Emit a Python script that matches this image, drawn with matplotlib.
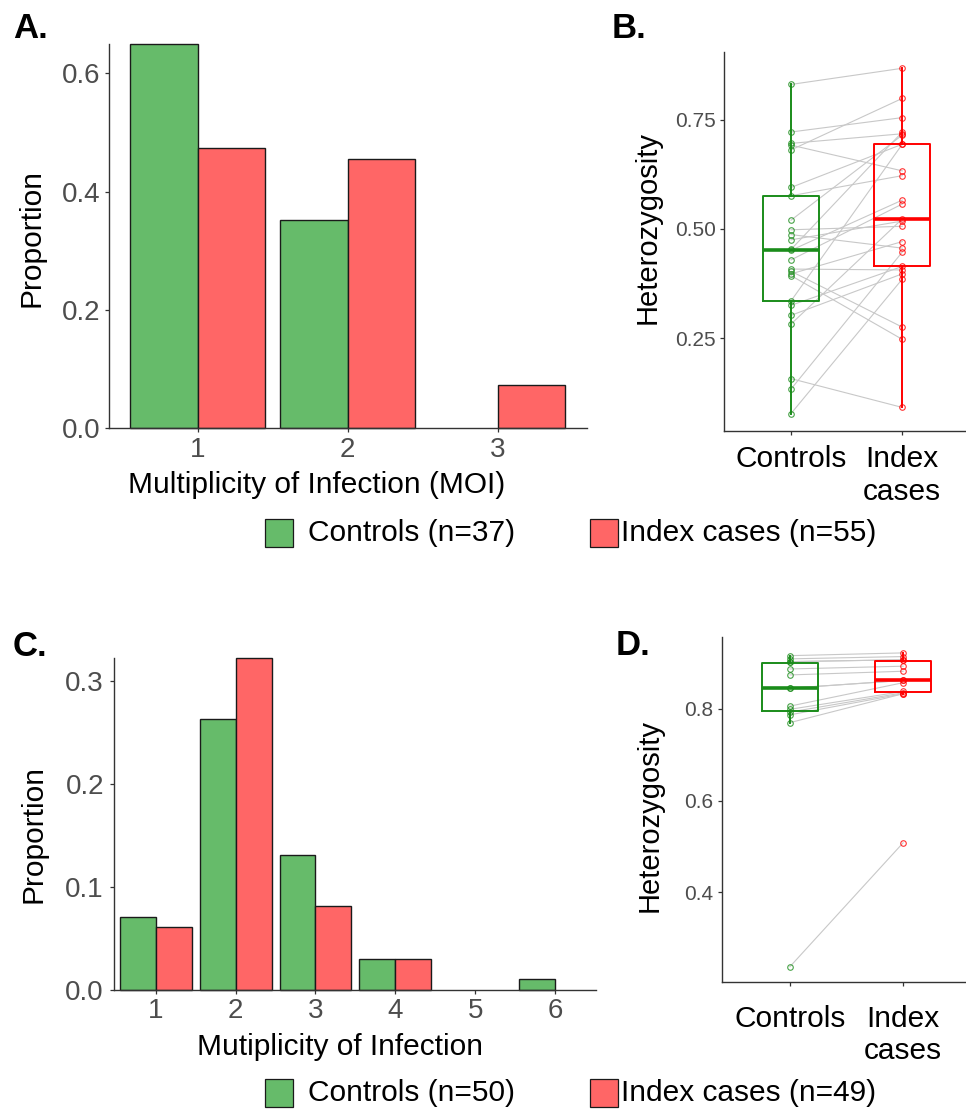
import numpy as np
import matplotlib.pyplot as plt
from matplotlib.patches import Rectangle

plt.rcParams['font.family'] = ['Liberation Sans', 'DejaVu Sans']

# ---- data ----
moi_a = [1, 2, 3]
controls_a = [0.649, 0.351, 0.0]
index_a = [0.473, 0.455, 0.073]

moi_c = [1, 2, 3, 4, 5, 6]
controls_c = [0.071, 0.263, 0.131, 0.030, 0.0, 0.010]
index_c = [0.061, 0.323, 0.081, 0.030, 0.0, 0.0]

# paired heterozygosity (control i <-> index case i)
het_b_controls = [0.831, 0.722, 0.696, 0.692, 0.681, 0.595, 0.576, 0.520, 0.498,
                  0.487, 0.475, 0.453, 0.451, 0.429, 0.408, 0.403, 0.397, 0.393,
                  0.335, 0.325, 0.302, 0.282, 0.157, 0.133, 0.077]
het_b_index = [0.868, 0.755, 0.718, 0.633, 0.799, 0.694, 0.622, 0.715, 0.506,
               0.456, 0.518, 0.722, 0.566, 0.557, 0.406, 0.275, 0.471, 0.247,
               0.694, 0.414, 0.397, 0.523, 0.091, 0.447, 0.385]

het_d_controls = [0.916, 0.909, 0.903, 0.903, 0.887, 0.874, 0.845, 0.845, 0.806,
                  0.799, 0.793, 0.787, 0.770, 0.238]
het_d_index = [0.922, 0.914, 0.907, 0.907, 0.893, 0.882, 0.862, 0.862, 0.857,
               0.838, 0.835, 0.833, 0.833, 0.508]

groups = ['Controls', 'Index\ncases']
legend_a = ['Controls (n=37)', 'Index cases (n=55)']
legend_c = ['Controls (n=50)', 'Index cases (n=49)']

GREEN_BAR = '#66BB6A'
RED_BAR = '#FF6666'
GREEN_BOX = '#1A8C1A'
RED_BOX = '#FF0000'
AXIS_COL = '#333333'
TICK_COL = '#4D4D4D'

W, H = 966, 1119
fig = plt.figure(figsize=(W / 100, H / 100), dpi=100)


def px_axes(left, top, right, bottom):
    return fig.add_axes([left / W, 1 - bottom / H, (right - left) / W, (bottom - top) / H])


def ftext(x, y, s, **kw):
    fig.text(x / W, 1 - y / H, s, **kw)


def style(ax):
    for s in ['top', 'right']:
        ax.spines[s].set_visible(False)
    for s in ['left', 'bottom']:
        ax.spines[s].set_color(AXIS_COL)
        ax.spines[s].set_linewidth(1.0)
    ax.tick_params(direction='out', length=3.2, width=0.9, color=AXIS_COL)


def bar_panel(ax, x, ctrl, idx, xlim, ylim, yticks, ylabels):
    x = np.array(x)
    ctrl = np.array(ctrl)
    idx = np.array(idx)
    # ggplot leaves empty categories blank, so skip zero-height bars
    for offs, vals, col in [(-0.225, ctrl, GREEN_BAR), (0.225, idx, RED_BAR)]:
        keep = vals > 0
        ax.bar(x[keep] + offs, vals[keep], width=0.45, color=col, edgecolor='#1a1a1a',
               linewidth=1.0, clip_on=False, zorder=2)
    ax.set_xlim(*xlim)
    ax.set_ylim(*ylim)
    ax.set_xticks(x)
    ax.set_yticks(yticks)
    ax.set_yticklabels(ylabels)
    style(ax)
    ax.tick_params(labelsize=20, labelcolor=TICK_COL)
    ax.tick_params(axis='x', pad=3)
    ax.tick_params(axis='y', pad=2.5)


def paired_panel(ax, ctrl, idx, ylim, yticks, ylabels):
    for c, i in zip(ctrl, idx):
        ax.plot([1, 2], [c, i], color='#C8C8C8', lw=0.8, zorder=1)
    for pos, vals, col in [(1, ctrl, GREEN_BOX), (2, idx, RED_BOX)]:
        ax.boxplot([vals], positions=[pos], widths=0.5, showcaps=False,
                   showfliers=False, patch_artist=False,
                   boxprops=dict(color=col, lw=1.4),
                   whiskerprops=dict(color=col, lw=1.4),
                   medianprops=dict(color=col, lw=2.6), zorder=2)
        ax.plot([pos] * len(vals), vals, 'o', ms=4.0, mfc='none', mec=col,
                mew=0.8, alpha=0.8, zorder=3)
    ax.set_xlim(0.4, 2.6)
    ax.set_ylim(*ylim)
    ax.set_xticks([1, 2])
    ax.set_xticklabels(groups)
    ax.set_yticks(yticks)
    ax.set_yticklabels(ylabels)
    style(ax)
    ax.tick_params(axis='y', labelsize=15, labelcolor=TICK_COL, pad=3)
    ax.tick_params(axis='x', labelsize=21.5, labelcolor='black', pad=7)


def legend_row(y, labels):
    for (sx, tx), lab, col in zip([(265, 308), (590, 621)], labels, [GREEN_BAR, RED_BAR]):
        fig.patches.append(Rectangle((sx / W, 1 - (y + 14) / H), 28 / W, 28 / H,
                                     transform=fig.transFigure, facecolor=col,
                                     edgecolor='#1a1a1a', lw=0.9))
        ftext(tx, y, lab, fontsize=21.5, va='center', ha='left')


# ---- A ----
axA = px_axes(108.6, 44.3, 587, 428)
bar_panel(axA, moi_a, controls_a, index_a, (0.404, 3.596), (0, 0.649),
          [0, 0.2, 0.4, 0.6], ['0.0', '0.2', '0.4', '0.6'])
ftext(31, 238, 'Proportion', fontsize=21.5, rotation=90, ha='center', va='center')
ftext(317, 485, 'Multiplicity of Infection (MOI)', fontsize=21.5, ha='center', va='center')
legend_row(533, legend_a)

# ---- B ----
axB = px_axes(724.3, 51.7, 969, 431)
paired_panel(axB, het_b_controls, het_b_index, (0.037, 0.906),
             [0.25, 0.50, 0.75], ['0.25', '0.50', '0.75'])
ftext(648, 227, 'Heterozygosity', fontsize=21, rotation=90, ha='center', va='center')

# ---- C ----
axC = px_axes(114, 657.7, 596, 989.7)
bar_panel(axC, moi_c, controls_c, index_c, (0.477, 6.513), (0, 0.323),
          [0, 0.1, 0.2, 0.3], ['0.0', '0.1', '0.2', '0.3'])
axC.tick_params(axis='x', pad=3)
axC.tick_params(axis='y', pad=4)
ftext(33, 834, 'Proportion', fontsize=21.5, rotation=90, ha='center', va='center')
ftext(340, 1047, 'Mutiplicity of Infection', fontsize=21.5, ha='center', va='center')
legend_row(1093, legend_c)

# ---- D ----
axD = px_axes(722, 637.3, 971, 982.3)
paired_panel(axD, het_d_controls, het_d_index, (0.204, 0.956),
             [0.4, 0.6, 0.8], ['0.4', '0.6', '0.8'])
axD.tick_params(axis='x', pad=13)
ftext(650, 815, 'Heterozygosity', fontsize=21, rotation=90, ha='center', va='center')

# ---- panel letters ----
for x, y, s in [(13, 38, 'A.'), (612, 38, 'B.'), (13, 656, 'C.'), (616, 655, 'D.')]:
    ftext(x, y, s, fontsize=25, fontweight='bold', ha='left', va='baseline')

fig.savefig('out.png', dpi=100, facecolor='white')
